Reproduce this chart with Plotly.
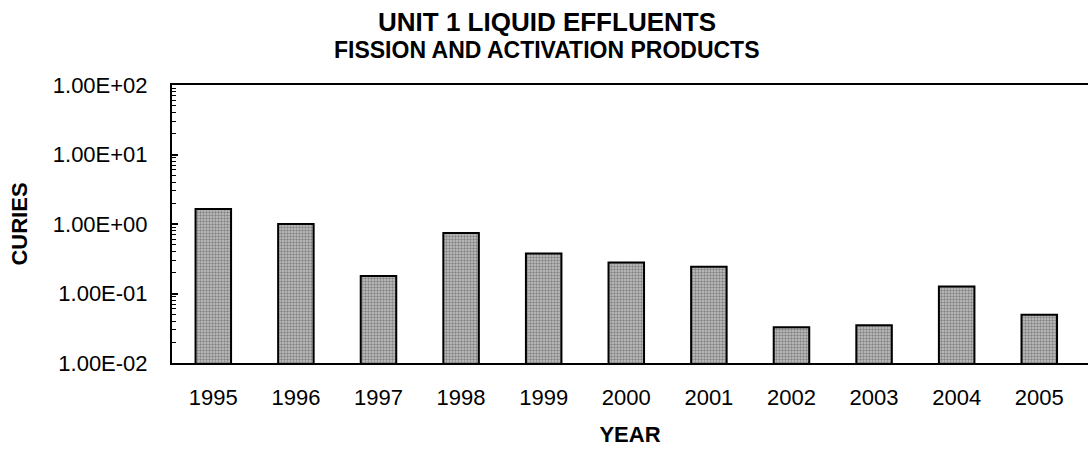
import plotly.graph_objects as go

# values
years = ["1995", "1996", "1997", "1998", "1999", "2000", "2001", "2002", "2003", "2004", "2005"]
curies = [1.65, 1.0, 0.178, 0.74, 0.377, 0.28, 0.243, 0.0326, 0.0348, 0.1265, 0.0496]

y_tickvals = [0.01, 0.1, 1, 10, 100]
y_ticktext = ["1.00E-02", "1.00E-01", "1.00E+00", "1.00E+01", "1.00E+02"]

FONT = "Liberation Sans, Arial, sans-serif"

fig = go.Figure()
fig.add_trace(
    go.Bar(
        x=years,
        y=curies,
        width=0.43,
        marker=dict(
            color="#a8a8a8",
            line=dict(color="black", width=2),
            pattern=dict(shape=".", size=3, solidity=0.5, fgcolor="#444444", bgcolor="#c4c4c4"),
        ),
        showlegend=False,
    )
)

fig.update_layout(
    width=1091,
    height=450,
    plot_bgcolor="white",
    paper_bgcolor="white",
    font=dict(family=FONT, color="black", size=22),
    margin=dict(l=172, r=3, t=85, b=87),
)

fig.add_annotation(text="<b>UNIT 1 LIQUID EFFLUENTS</b>", xref="paper", yref="paper",
                   x=0.409, y=1, yshift=63, yanchor="middle", showarrow=False, font=dict(size=26))
fig.add_annotation(text="<b>FISSION AND ACTIVATION PRODUCTS</b>", xref="paper", yref="paper",
                   x=0.409, y=1, yshift=35, yanchor="middle", showarrow=False, font=dict(size=23))

fig.update_xaxes(
    type="category",
    range=[-0.5, 10.59],
    automargin=False,
    showline=True,
    linecolor="black",
    linewidth=2,
    mirror=True,
    ticks="",
    ticklabelstandoff=14,
    tickfont=dict(size=22),
    title=dict(text="<b>YEAR</b>", font=dict(size=22), standoff=17),
    showgrid=False,
)

fig.update_yaxes(
    type="log",
    range=[-2, 2],
    automargin=False,
    tickvals=y_tickvals,
    ticktext=y_ticktext,
    showline=True,
    linecolor="black",
    linewidth=2,
    ticks="inside",
    ticklen=6,
    tickwidth=2,
    tickcolor="black",
    minor=dict(ticks="inside", dtick="D1", ticklen=4, tickwidth=1, tickcolor="black", showgrid=False),
    ticklabelstandoff=18,
    tickfont=dict(size=22),
    title=dict(text="<b>CURIES</b>", font=dict(size=22), standoff=19),
    showgrid=False,
    zeroline=False,
)

fig.write_html("out.html", config={"displayModeBar": False},
               post_script="document.body.style.margin='0';")
